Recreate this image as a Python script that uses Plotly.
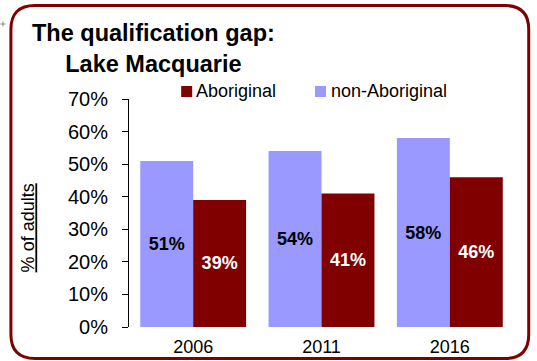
import plotly.graph_objects as go

# Survey years and share of adults holding a post-school qualification (%)
years = ["2006", "2011", "2016"]
non_aboriginal = [51, 54, 58]
aboriginal = [39, 41, 46]
y_ticks = [0, 10, 20, 30, 40, 50, 60, 70]
y_tick_labels = [f"{v}%" for v in y_ticks]

LIGHT = "#9999FF"
DARK = "#800000"
FONT = "Liberation Sans, Arial, sans-serif"

W, H = 537, 361
L, R, T, B = 128.75, 22.75, 99, 34
PW, PH = W - L - R, H - T - B


def px_x(px):
    return (px - L) / PW


def px_y(py):
    return (H - B - py) / PH


fig = go.Figure()
fig.add_trace(go.Bar(
    x=years, y=non_aboriginal, name="non-Aboriginal",
    marker=dict(color=LIGHT, line=dict(width=0)),
    texttemplate="%{y}%", textposition="inside", insidetextanchor="middle",
    textangle=0, textfont=dict(color="black", size=18, family=FONT, weight="bold"),
    showlegend=False,
))
fig.add_trace(go.Bar(
    x=years, y=aboriginal, name="Aboriginal",
    marker=dict(color=DARK, line=dict(width=0)),
    texttemplate="%{y}%", textposition="inside", insidetextanchor="middle",
    textangle=0, textfont=dict(color="white", size=18, family=FONT, weight="bold"),
    showlegend=False,
))

shapes = []
annotations = []

# Rounded frame around the whole chart
x0, x1, y0, y1, rad = 10.5, 529, 5.5, 358.5, 24
def P(px, py):
    return f"{px_x(px):.5f},{px_y(py):.5f}"
frame = (
    f"M{P(x0 + rad, y0)} L{P(x1 - rad, y0)} Q{P(x1, y0)} {P(x1, y0 + rad)} "
    f"L{P(x1, y1 - rad)} Q{P(x1, y1)} {P(x1 - rad, y1)} "
    f"L{P(x0 + rad, y1)} Q{P(x0, y1)} {P(x0, y1 - rad)} "
    f"L{P(x0, y0 + rad)} Q{P(x0, y0)} {P(x0 + rad, y0)} Z"
)
shapes.append(dict(type="path", xref="paper", yref="paper", path=frame,
                   line=dict(color=DARK, width=3), layer="below"))

# small registration cross at the top-left corner
shapes.append(dict(type="line", xref="paper", yref="paper",
                   x0=px_x(0), x1=px_x(5), y0=px_y(24), y1=px_y(24),
                   line=dict(color="#888888", width=1)))
shapes.append(dict(type="line", xref="paper", yref="paper",
                   x0=px_x(2.5), x1=px_x(2.5), y0=px_y(21.5), y1=px_y(26.5),
                   line=dict(color="#888888", width=1)))

# Legend keys
legend_items = [("Aboriginal", DARK, 181, 196), ("non-Aboriginal", LIGHT, 315, 331)]
for label, color, sx, tx in legend_items:
    shapes.append(dict(type="rect", xref="paper", yref="paper",
                       x0=px_x(sx), x1=px_x(sx + 11), y0=px_y(97), y1=px_y(86),
                       fillcolor=color, line=dict(width=0)))
    annotations.append(dict(text=label, xref="paper", yref="paper",
                            x=px_x(tx - 2), y=px_y(90.5), xanchor="left", yanchor="middle",
                            showarrow=False, font=dict(size=18, family=FONT, color="black")))

# Title
annotations.append(dict(text="<b>The qualification gap:<br>Lake Macquarie</b>",
                        xref="paper", yref="paper", x=px_x(153), y=px_y(18),
                        xanchor="center", yanchor="top", showarrow=False,
                        font=dict(size=23.5, family=FONT, color="black")))

# Y axis title
annotations.append(dict(text="<u>% of adults</u>", xref="paper", yref="paper",
                        x=px_x(28), y=px_y(228), textangle=-90,
                        xanchor="center", yanchor="middle", showarrow=False,
                        font=dict(size=18, family=FONT, color="black")))

fig.update_layout(
    width=W, height=H,
    margin=dict(l=L, r=R, t=T, b=B, autoexpand=False),
    paper_bgcolor="white", plot_bgcolor="white",
    barmode="group", bargap=0.175, bargroupgap=0,
    font=dict(family=FONT, color="black"),
    shapes=shapes, annotations=annotations,
    uniformtext=dict(mode=False),
    xaxis=dict(showline=False, ticks="", showgrid=False, zeroline=False,
               tickfont=dict(size=18, family=FONT, color="black"),
               ticklabelstandoff=7),
    yaxis=dict(range=[0, 70], tickvals=y_ticks, ticktext=y_tick_labels,
               showline=True, linecolor="black", linewidth=1,
               ticks="outside", ticklen=6, tickcolor="black",
               showgrid=False, zeroline=False,
               tickfont=dict(size=20, family=FONT, color="black"),
               ticklabelstandoff=10),
)

fig.write_html("out.html")
